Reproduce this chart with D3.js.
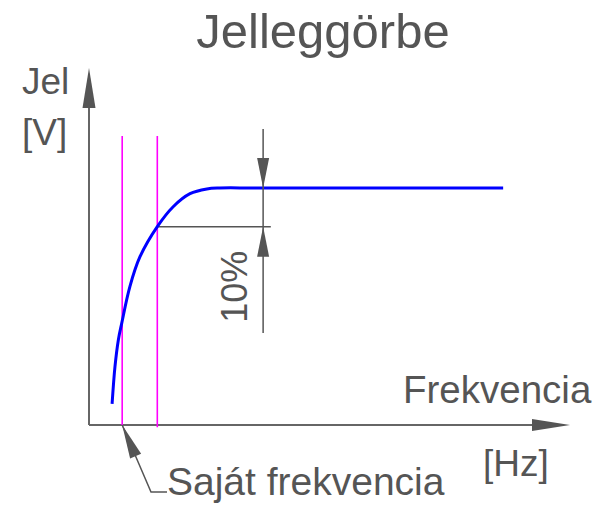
<!DOCTYPE html>
<html>
<head>
<meta charset="utf-8">
<script src="https://cdn.jsdelivr.net/npm/d3@7"></script>
<style>
  body { margin: 0; background: #fff; }
  text { font-family: "Liberation Sans", Arial, sans-serif; fill: #555; }
</style>
</head>
<body>
<div id="chart"></div>
<script>
// frequency response curve (schematic units: x 0-100, y 100 = plateau)
const freq   = [4.8, 5.4, 6.1, 6.8, 8.5, 10.6, 14.2, 17.5, 21.0, 24.5, 27.2, 35.0, 86.1];
const signal = [8.9, 24.6, 35.9, 42.9, 58.4, 71.0, 83.7, 92.1, 97.6, 99.6, 100, 100, 100];

// magenta marker lines (natural frequency, -10% point)
const markerFreq = [6.9, 14.2];
const markerTop = 121.9, markerBottom = -1;

// dimension for the 10% drop
const dimX = 36.2, dimLevels = [100, 83.7], dimTop = 124.9, dimBottom = 38.8, dimExtEnd = 37.8;
const dimExtStart = [27.9, 14.2];

const title = "Jelleggörbe";
const yLabel = ["Jel", "[V]"];
const xLabel = ["Frekvencia", "[Hz]"];
const noteLabel = "Saját frekvencia";
const dimLabel = "10%";

const width = 604, height = 511;

const x = d3.scaleLinear().domain([0, 100]).range([89, 570]);
const y = d3.scaleLinear().domain([0, 100]).range([425, 188]);

const svg = d3.select("#chart").append("svg")
    .attr("width", width)
    .attr("height", height);

// arrowhead: tip point, direction, length, half width
function arrowHead(tx, ty, dx, dy, len, hw) {
    const n = Math.hypot(dx, dy); dx /= n; dy /= n;
    const bx = tx - dx * len, by = ty - dy * len;
    return `M${tx},${ty}L${bx - dy * hw},${by + dx * hw}L${bx + dy * hw},${by - dx * hw}Z`;
}

const axisColor = "#666";

// axes
svg.append("line")
    .attr("x1", x(0)).attr("y1", y(0))
    .attr("x2", x(0)).attr("y2", y(150.6) + 20)
    .attr("stroke", axisColor).attr("stroke-width", 2);
svg.append("path")
    .attr("d", arrowHead(x(0), y(150.6), 0, -1, 40, 6.5))
    .attr("fill", "#555");

svg.append("line")
    .attr("x1", x(0)).attr("y1", y(0))
    .attr("x2", x(100) - 20).attr("y2", y(0))
    .attr("stroke", axisColor).attr("stroke-width", 2);
svg.append("path")
    .attr("d", arrowHead(x(100), y(0), 1, 0, 38, 6))
    .attr("fill", "#555");

// magenta marker lines
svg.selectAll(".marker")
    .data(markerFreq)
    .join("line")
    .attr("class", "marker")
    .attr("x1", d => x(d)).attr("x2", d => x(d))
    .attr("y1", y(markerTop)).attr("y2", (d, i) => y(markerBottom) + (i === 0 ? -2 : 0))
    .attr("stroke", "#ff00ff").attr("stroke-width", 1.6);

// dimension extension lines
svg.selectAll(".ext")
    .data(dimLevels)
    .join("line")
    .attr("class", "ext")
    .attr("x1", (d, i) => x(dimExtStart[i])).attr("x2", x(dimExtEnd))
    .attr("y1", d => y(d)).attr("y2", d => y(d))
    .attr("stroke", "#555").attr("stroke-width", 1.5);

// response curve
const line = d3.line()
    .x(d => x(d[0]))
    .y(d => y(d[1]))
    .curve(d3.curveCatmullRom.alpha(0.5));

svg.append("path")
    .datum(freq.map((f, i) => [f, signal[i]]))
    .attr("d", line)
    .attr("fill", "none")
    .attr("stroke", "#0000ff")
    .attr("stroke-width", 3);

// dimension line with arrows
svg.append("line")
    .attr("x1", x(dimX)).attr("x2", x(dimX))
    .attr("y1", y(dimTop)).attr("y2", y(dimBottom))
    .attr("stroke", "#555").attr("stroke-width", 1.5);
svg.append("path")
    .attr("d", arrowHead(x(dimX), y(dimLevels[0]), 0, 1, 30, 6))
    .attr("fill", "#555");
svg.append("path")
    .attr("d", arrowHead(x(dimX), y(dimLevels[1]), 0, -1, 30, 6))
    .attr("fill", "#555");

svg.append("text")
    .attr("transform", `translate(${x(dimX) - 16},${(y(dimLevels[1]) + y(dimBottom)) / 2 + 7}) rotate(-90)`)
    .attr("text-anchor", "middle")
    .attr("font-size", 36)
    .text(dimLabel);

// leader to natural frequency
const tipX = x(markerFreq[0]), tipY = y(0);
const bendX = 151, bendY = 492;
svg.append("path")
    .attr("d", `M${tipX},${tipY}L${bendX},${bendY}L${bendX + 16},${bendY}`)
    .attr("fill", "none")
    .attr("stroke", "#555").attr("stroke-width", 1.5);
svg.append("path")
    .attr("d", arrowHead(tipX, tipY, tipX - bendX, tipY - bendY, 34, 6))
    .attr("fill", "#555");

// texts
svg.append("text")
    .attr("x", 323).attr("y", 48)
    .attr("text-anchor", "middle")
    .attr("font-size", 49)
    .text(title);

svg.selectAll(".ylab")
    .data(yLabel)
    .join("text")
    .attr("class", "ylab")
    .attr("x", 22).attr("y", (d, i) => 94 + i * 51)
    .attr("font-size", 37)
    .text(d => d);

svg.append("text")
    .attr("x", 403).attr("y", 403)
    .attr("font-size", 38.5)
    .text(xLabel[0]);
svg.append("text")
    .attr("x", 483).attr("y", 476)
    .attr("font-size", 37)
    .text(xLabel[1]);

svg.append("text")
    .attr("x", 167).attr("y", 495)
    .attr("font-size", 39)
    .text(noteLabel);
</script>
</body>
</html>
